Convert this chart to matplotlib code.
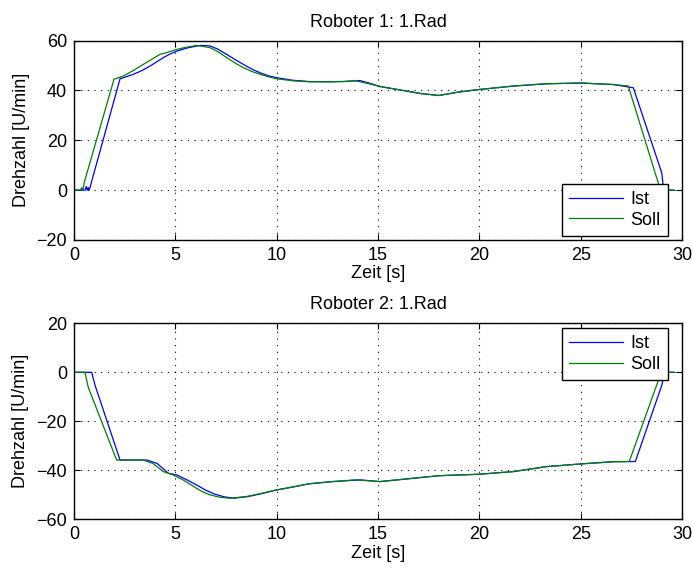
import matplotlib
matplotlib.use("Agg")
import matplotlib.pyplot as plt

plt.rcParams['font.family'] = ['Liberation Sans', 'DejaVu Sans']
plt.rcParams['font.size'] = 13

# Roboter 1, Rad 1: Sollwert
r1_soll_t = [0, 0.3, 0.38, 0.44, 0.5, 1.97, 2.43, 2.9, 3.42, 3.85, 4.24, 4.49, 5.07, 5.5,
             6.05, 6.71, 7.1, 7.53, 7.95, 8.35, 8.75, 9.18, 9.6, 10.0, 10.8, 11.6, 12.5,
             13.3, 13.9, 14.5, 15.1, 16.1, 17.1, 18.0, 19.0, 20.0, 21.7, 23.3, 25.0, 26.6,
             27.35, 28.83, 28.9, 29.6]
r1_soll_v = [0, 0, 1, 0, 3, 44.5, 45.8, 47.9, 50.5, 52.6, 54.5, 55.0, 56.5, 57.3,
             58.1, 57.2, 55.6, 53.2, 51.0, 49.2, 47.7, 46.5, 45.5, 44.7, 43.9, 43.5, 43.5,
             43.6, 43.9, 42.8, 41.6, 40.2, 38.8, 38.0, 39.4, 40.4, 41.8, 42.7, 43.0, 42.4,
             41.8, 2.9, 0, 0]

# Roboter 1, Rad 1: Istwert
r1_ist_t = [0, 0.55, 0.6, 0.65, 0.7, 0.75, 2.27, 2.93, 3.35, 3.75, 4.1, 4.41, 4.7, 5.07,
            5.6, 6.22, 6.71, 7.1, 7.53, 7.95, 8.35, 8.75, 9.18, 9.6, 10.0, 10.8, 11.6,
            12.5, 13.3, 14.1, 14.6, 15.1, 16.1, 17.1, 18.0, 19.0, 20.0, 21.7, 23.3, 25.0,
            26.6, 27.6, 29.0, 29.1, 29.6]
r1_ist_v = [0, 0, 1.5, 0, 1, 0, 44.7, 46.5, 48.0, 49.8, 51.6, 53.2, 54.5, 55.8,
            57.1, 58.1, 57.9, 56.6, 54.5, 52.4, 50.5, 48.7, 47.1, 45.9, 45.1, 44.1, 43.6,
            43.5, 43.6, 44.0, 42.9, 41.6, 40.2, 38.8, 38.0, 39.4, 40.4, 41.8, 42.7, 43.0,
            42.4, 41.1, 7.0, 0, 0]

# Roboter 2, Rad 1: Sollwert
r2_soll_t = [0, 0.54, 0.7, 2.1, 3.4, 3.9, 4.4, 4.9, 5.4, 5.9, 6.3, 6.7, 7.2, 7.7, 8.5,
             9.2, 10.0, 10.8, 11.6, 12.7, 13.9, 15.1, 18.0, 20.0, 21.7, 23.3, 25.0, 26.6,
             27.4, 28.83, 28.9, 29.6]
r2_soll_v = [0, 0, -6.1, -35.8, -35.8, -37.2, -40.5, -41.9, -44.0, -46.6, -48.6, -50.0,
             -51.0, -51.4, -50.7, -49.5, -48.0, -46.8, -45.5, -44.6, -43.9, -44.6, -42.2,
             -41.6, -40.5, -38.5, -37.4, -36.5, -36.4, -3.4, 0, 0]

# Roboter 2, Rad 1: Istwert
r2_ist_t = [0, 0.87, 1.04, 2.27, 3.6, 4.1, 4.65, 5.07, 5.55, 6.05, 6.5, 6.9, 7.4, 7.9,
            8.6, 9.2, 10.0, 10.8, 11.6, 12.8, 14.1, 15.1, 18.0, 20.0, 21.7, 23.3, 25.0,
            26.6, 27.7, 29.0, 29.15, 29.6]
r2_ist_v = [0, 0, -5.4, -35.8, -35.8, -37.2, -41.2, -41.9, -43.8, -46.0, -48.1, -49.6,
            -50.8, -51.4, -50.7, -49.6, -48.0, -46.8, -45.5, -44.6, -43.9, -44.6, -42.2,
            -41.6, -40.5, -38.5, -37.4, -36.5, -36.4, -5.4, 0, 0]

x_ticks = [0, 5, 10, 15, 20, 25, 30]
y1_ticks = [-20, 0, 20, 40, 60]
y2_ticks = [-60, -40, -20, 0, 20]

IST_COLOR = (0, 0, 1)
SOLL_COLOR = (0, 0.5, 0)

fig = plt.figure(figsize=(6.92, 5.68), dpi=100)
ax1 = fig.add_axes([0.107, 0.5775, 0.8785, 0.3509])
ax2 = fig.add_axes([0.107, 0.0857, 0.8785, 0.3451])


def style(ax, yticks, title):
    ax.set_xlim(0, 30)
    ax.set_ylim(yticks[0], yticks[-1])
    ax.set_xticks(x_ticks)
    ax.set_yticks(yticks)
    ax.tick_params(direction='in', top=True, right=True, length=4, width=0.8,
                   labelsize=13, pad=5)
    ax.grid(True, color='black', linestyle=(0, (1, 5)), linewidth=0.8)
    for s in ax.spines.values():
        s.set_linewidth(1.0)
    ax.set_title(title, fontsize=13, pad=10)
    ax.set_xlabel('Zeit [s]', fontsize=13, labelpad=1)
    ax.set_ylabel('Drehzahl [U/min]', fontsize=13, labelpad=5)


def add_legend(ax, loc, anchor):
    leg = ax.legend(loc=loc, bbox_to_anchor=anchor, borderaxespad=0,
                    fancybox=False, framealpha=1, edgecolor='black', fontsize=13,
                    handlelength=3.0, borderpad=0.4, labelspacing=0.2,
                    handletextpad=0.4)
    leg.get_frame().set_linewidth(1.0)
    return leg


ax1.plot(r1_ist_t, r1_ist_v, color=IST_COLOR, lw=0.9, label='Ist')
ax1.plot(r1_soll_t, r1_soll_v, color=SOLL_COLOR, lw=0.9, label='Soll')
style(ax1, y1_ticks, 'Roboter 1: 1.Rad')
add_legend(ax1, 'lower right', (0.977, 0.02))

ax2.plot(r2_ist_t, r2_ist_v, color=IST_COLOR, lw=0.9, label='Ist')
ax2.plot(r2_soll_t, r2_soll_v, color=SOLL_COLOR, lw=0.9, label='Soll')
style(ax2, y2_ticks, 'Roboter 2: 1.Rad')
add_legend(ax2, 'upper right', (0.977, 0.976))

fig.savefig('out.png', dpi=100)
